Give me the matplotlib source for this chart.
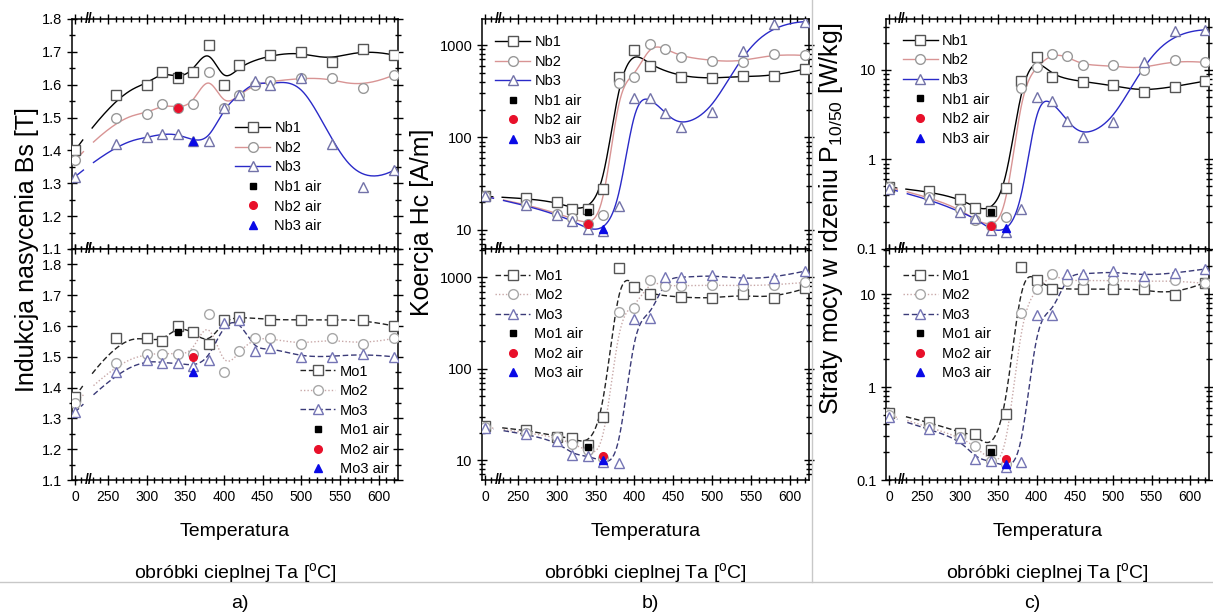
import numpy as np
import matplotlib
matplotlib.use("Agg")
import matplotlib.pyplot as plt
from matplotlib.lines import Line2D
from matplotlib.ticker import MultipleLocator, FixedLocator, LogLocator, FuncFormatter, NullFormatter

plt.rcParams["font.family"] = ["Liberation Sans", "DejaVu Sans"]
plt.rcParams["mathtext.fontset"] = "custom"
plt.rcParams["mathtext.rm"] = "Liberation Sans"
plt.rcParams["mathtext.it"] = "Liberation Sans:italic"

# ---- data: temperature of heat treatment [C] and measured values ----
# a) saturation induction Bs [T]
nb1_T = [0, 260, 300, 320, 340, 360, 380, 400, 420, 460, 500, 540, 580, 620]
nb1_Bs = [1.40, 1.57, 1.60, 1.64, 1.62, 1.64, 1.72, 1.60, 1.66, 1.69, 1.70, 1.67, 1.71, 1.69]
nb2_T = [0, 260, 300, 320, 340, 360, 380, 400, 420, 440, 460, 500, 540, 580, 620]
nb2_Bs = [1.37, 1.50, 1.51, 1.54, 1.53, 1.54, 1.64, 1.53, 1.57, 1.60, 1.61, 1.62, 1.62, 1.59, 1.63]
nb3_T = [0, 260, 300, 320, 340, 360, 380, 400, 420, 440, 460, 500, 540, 580, 620]
nb3_Bs = [1.32, 1.42, 1.44, 1.45, 1.45, 1.43, 1.43, 1.53, 1.57, 1.61, 1.60, 1.62, 1.42, 1.29, 1.34]
nb_air_T = [340, 340, 360]
nb_air_Bs = [1.63, 1.53, 1.43]

mo1_T = [0, 260, 300, 320, 340, 360, 380, 400, 420, 460, 500, 540, 580, 620]
mo1_Bs = [1.37, 1.56, 1.56, 1.55, 1.60, 1.58, 1.54, 1.62, 1.63, 1.62, 1.62, 1.62, 1.62, 1.60]
mo2_T = [0, 260, 300, 320, 340, 360, 380, 400, 420, 440, 460, 500, 540, 580, 620]
mo2_Bs = [1.35, 1.48, 1.51, 1.51, 1.51, 1.51, 1.64, 1.45, 1.52, 1.56, 1.56, 1.54, 1.56, 1.54, 1.56]
mo3_T = [0, 260, 300, 320, 340, 360, 380, 400, 420, 440, 460, 500, 540, 580, 620]
mo3_Bs = [1.32, 1.45, 1.49, 1.48, 1.48, 1.47, 1.49, 1.61, 1.62, 1.52, 1.53, 1.50, 1.50, 1.51, 1.50]
mo_air_T = [340, 360, 360]
mo_air_Bs = [1.58, 1.50, 1.45]

# b) coercivity Hc [A/m]
nb1_Hc = [23, 22, 20, 17, 17, 28, 450, 880, 600, 455, 436, 462, 462, 552]
nb2_Hc = [23, 19, 15, 13.3, 11.5, 14.6, 388, 448, 1035, 920, 750, 680, 653, 811, 773]
nb3_Hc = [23, 18.5, 14.5, 12.5, 10.2, 9.8, 18, 266, 271, 183, 131, 190, 875, 1710, 1800]
nb_air_Hc = [15.5, 11.5, 10.3]
mo1_Hc = [23.5, 21.5, 18, 17.5, 14.6, 30, 1275, 793, 653, 606, 590, 653, 590, 759]
mo2_Hc = [23, 20, 17.9, 14.9, 12.8, 10.6, 423, 460, 935, 810, 811, 826, 811, 826, 883]
mo3_Hc = [22.5, 19.4, 16.1, 11.5, 11.1, 9.6, 9.4, 351, 363, 1000, 1000, 1060, 960, 993, 1175]
mo_air_Hc = [13.9, 11.1, 10.1]

# c) core loss P10/50 [W/kg]
nb1_P = [0.49, 0.44, 0.365, 0.29, 0.265, 0.48, 7.5, 14.0, 8.4, 7.4, 6.7, 5.7, 6.5, 7.5]
nb2_P = [0.49, 0.38, 0.28, 0.21, 0.18, 0.23, 6.2, 10.9, 15.2, 14.2, 11.2, 11.2, 10.0, 13.0, 12.1]
nb3_P = [0.47, 0.36, 0.26, 0.22, 0.164, 0.154, 0.28, 4.95, 4.5, 2.7, 1.77, 2.6, 12.4, 26.9, 28]
nb_air_P = [0.26, 0.18, 0.172]
mo1_P = [0.53, 0.42, 0.32, 0.31, 0.21, 0.51, 19.3, 14.1, 11.3, 11.3, 11.3, 11.3, 9.8, 13.3]
mo2_P = [0.50, 0.37, 0.29, 0.23, 0.16, 0.15, 6.3, 11.3, 16.4, 13.9, 14.0, 14.0, 13.6, 14.0, 13.0]
mo3_P = [0.48, 0.35, 0.28, 0.17, 0.16, 0.139, 0.155, 6.0, 6.0, 16.4, 16.4, 17.5, 15.7, 16.7, 18.6]
mo_air_P = [0.20, 0.17, 0.15]

x_ticks = [0, 250, 300, 350, 400, 450, 500, 550, 600]

# ---- broken x axis: 0 is squeezed next to 230 ----
brk_data = [-100, 8, 228, 2000]
brk_u = [111, 215, 228, 2000]


def fwd(x):
    return np.interp(x, brk_data, brk_u)


def inv(u):
    return np.interp(u, brk_u, brk_data)


def bspline(x, y, log=False, n=500):
    # Origin style B-spline (clamped cubic, points used as control points)
    u = fwd(np.asarray(x, float))
    v = np.log10(y) if log else np.asarray(y, float)
    m, k = len(u), 3
    knots = np.concatenate([[0] * k, np.linspace(0, 1, m - k + 1), [1] * k])
    t = np.linspace(0, 1, n)
    t[-1] = 1 - 1e-12
    B = np.array([((knots[i] <= t) & (t < knots[i + 1])).astype(float) for i in range(len(knots) - 1)])
    for d in range(1, k + 1):
        nb = []
        for i in range(len(knots) - 1 - d):
            term = np.zeros_like(t)
            d1 = knots[i + d] - knots[i]
            d2 = knots[i + d + 1] - knots[i + 1]
            if d1 > 0:
                term += (t - knots[i]) / d1 * B[i]
            if d2 > 0:
                term += (knots[i + d + 1] - t) / d2 * B[i + 1]
            nb.append(term)
        B = np.array(nb)
    cu = B.T @ u
    cv = B.T @ v
    cv[(cu > 220) & (cu < 229)] = np.nan
    return inv(cu), (10 ** cv if log else cv)


nb_style = [
    ("Nb1", "black", "-", "s", "#555555"),
    ("Nb2", "#d89494", "-", "o", "#999999"),
    ("Nb3", "#2a2ac8", "-", "^", "#7272a8"),
]
mo_style = [
    ("Mo1", "#222222", (0, (4, 2)), "s", "#555555"),
    ("Mo2", "#c8a8a8", (0, (1, 1.5)), "o", "#a8a8a8"),
    ("Mo3", "#3a3a78", (0, (4, 2)), "^", "#7474b4"),
]
air_style = [("s", "black", 5), ("o", "#e8102a", 5.5), ("^", "#0a0ae6", 6)]

W, H = 1213, 616
fig = plt.figure(figsize=(W / 100, H / 100), dpi=100)


def box(l, t, r, b):
    return [l / W, 1 - b / H, (r - l) / W, (b - t) / H]


def panel(rect, series, styles, air_T, air_v, log, ylim, legend_at):
    ax = fig.add_axes(rect)
    ax.set_xscale("function", functions=(fwd, inv))
    handles = []
    for (T, vals), (name, lc, ls, mk, mec) in zip(series, styles):
        xs, ys = bspline(T, vals, log)
        ax.plot(xs, ys, color=lc, ls=ls, lw=1.0, zorder=2)
        ax.plot(T, vals, ls="none", marker=mk, ms=7, mfc="white", mec=mec, mew=1.0, zorder=3)
        handles.append(Line2D([], [], color=lc, ls=ls, lw=1.0, marker=mk, ms=7, mfc="white", mec=mec, label=name))
    for i, (name, lc, ls, mk, mec) in enumerate(styles):
        amk, acol, ams = air_style[i]
        ax.plot(air_T[i], air_v[i], ls="none", marker=amk, ms=ams, color=acol, zorder=4)
        handles.append(Line2D([], [], ls="none", marker=amk, ms=ams, color=acol, label=name + " air"))
    ax.legend(handles=handles, loc="upper left", bbox_to_anchor=legend_at, frameon=False, fontsize=10.5,
              handlelength=2.4, handletextpad=0.3, labelspacing=0.38, borderpad=0, borderaxespad=0)
    ax.set_xlim(-4, 625)
    ax.set_ylim(*ylim)
    ax.xaxis.set_major_locator(FixedLocator(x_ticks))
    ax.xaxis.set_minor_locator(FixedLocator([10] + [v for v in range(230, 630, 10) if v % 50]))
    if log:
        ax.set_yscale("log")
        ax.yaxis.set_major_locator(LogLocator(base=10))
        ax.yaxis.set_minor_locator(LogLocator(base=10, subs=np.arange(2, 10)))
        ax.yaxis.set_major_formatter(FuncFormatter(lambda v, p: f"{v:g}"))
        ax.yaxis.set_minor_formatter(NullFormatter())
    else:
        ax.yaxis.set_major_locator(MultipleLocator(0.1))
        ax.yaxis.set_minor_locator(MultipleLocator(0.05))
        ax.yaxis.set_major_formatter(FuncFormatter(lambda v, p: f"{v:.1f}"))
    ax.tick_params(which="both", direction="inout", top=True, right=True, width=1.0, labelsize=10.5)
    ax.tick_params(which="major", length=7)
    ax.tick_params(which="minor", length=4)
    for sp in ax.spines.values():
        sp.set_linewidth(1.1)
    for yy in (0, 1):
        ax.text(inv(224.5), yy, "//", transform=ax.get_xaxis_transform(), ha="center", va="center",
                fontsize=10, fontweight="bold", zorder=5)
    return ax


panels = [
    (72, 398, nb1_Bs, nb2_Bs, nb3_Bs, nb_air_Bs, mo1_Bs, mo2_Bs, mo3_Bs, mo_air_Bs, False,
     (1.1, 1.8), (1.1, 1.85), (0.50, 0.555), (0.70, 0.50)),
    (482, 809, nb1_Hc, nb2_Hc, nb3_Hc, nb_air_Hc, mo1_Hc, mo2_Hc, mo3_Hc, mo_air_Hc, True,
     (6.2, 1920), (6.05, 2050), (0.04, 0.93), (0.04, 0.915)),
    (886, 1209, nb1_P, nb2_P, nb3_P, nb_air_P, mo1_P, mo2_P, mo3_P, mo_air_P, True,
     (0.1, 37), (0.1, 30.5), (0.052, 0.935), (0.052, 0.915)),
]

for (l, r, n1, n2, n3, na, m1, m2, m3, ma, log, ylim_top, ylim_bot, leg_top, leg_bot) in panels:
    top = panel(box(l, 19, r, 249), [(nb1_T, n1), (nb2_T, n2), (nb3_T, n3)], nb_style,
                nb_air_T, na, log, ylim_top, leg_top)
    top.tick_params(labelbottom=False)
    bot = panel(box(l, 249, r, 480), [(mo1_T, m1), (mo2_T, m2), (mo3_T, m3)], mo_style,
                mo_air_T, ma, log, ylim_bot, leg_bot)
    bot.set_xticklabels([str(v) for v in x_ticks], fontfamily=["Liberation Sans Narrow", "Liberation Sans"],
                        fontsize=10)
    cx = (l + r) / 2 / W
    fig.text(cx, 1 - 532 / H, "Temperatura", ha="center", va="center", fontsize=14)
    fig.text(cx, 1 - 573 / H, "obróbki cieplnej Ta [$^{\\mathrm{o}}$C]", ha="center", va="center", fontsize=14)

fig.text(27 / W, 1 - 250 / H, "Indukcja nasycenia Bs [T]", rotation=90, ha="center", va="center", fontsize=18)
fig.text(422 / W, 1 - 222 / H, "Koercja Hc [A/m]", rotation=90, ha="center", va="center", fontsize=18)
fig.text(831 / W, 1 - 219 / H, "Straty mocy w rdzeniu P$_{10/50}$ [W/kg]", rotation=90,
         ha="center", va="center", fontsize=18)

for lbl, x in (("a)", 240), ("b)", 650), ("c)", 1032)):
    fig.text(x / W, 1 - 603 / H, lbl, ha="center", va="center", fontsize=14)

fig.add_artist(Line2D([0, 1], [1 - 582 / H] * 2, transform=fig.transFigure, color="#c8c8c8", lw=1))
fig.add_artist(Line2D([812 / W] * 2, [1 - 582 / H, 1], transform=fig.transFigure, color="#c8c8c8", lw=1))

fig.savefig("out.png", dpi=100)
